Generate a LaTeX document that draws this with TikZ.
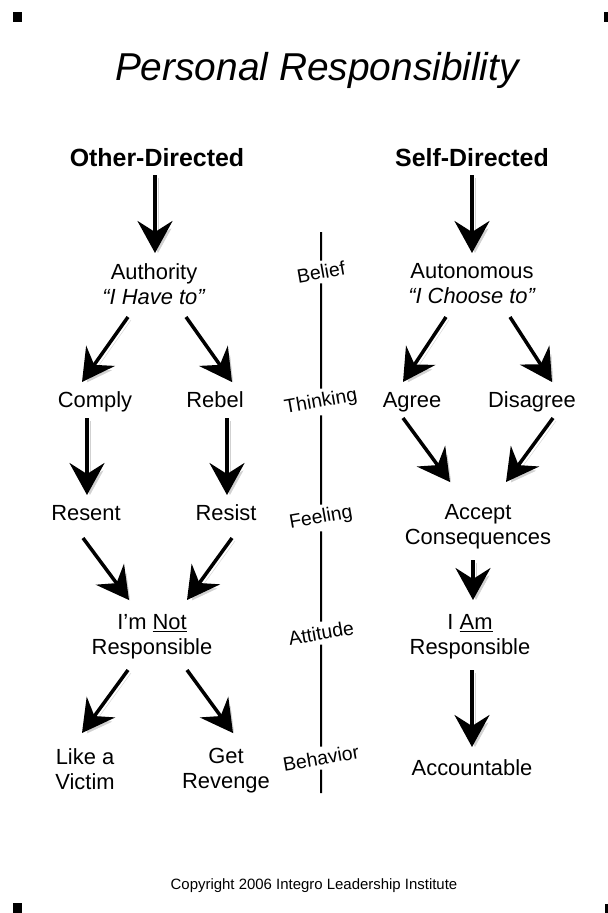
\documentclass[tikz,border=0pt]{standalone}
\usepackage{fontspec}
\setmainfont{Liberation Sans}
\usetikzlibrary{arrows.meta}

\tikzset{
  txt/.style={font=\fontsize{22}{25}\selectfont, align=center, inner sep=0pt,
    execute at begin node=\strut, execute at end node=\strut},
  headtxt/.style={font=\fontsize{25}{28}\selectfont\bfseries, inner sep=0pt},
  lvl/.style={font=\fontsize{19.5}{22}\selectfont, rotate=10, inner sep=4pt},
  arr/.style={line width=3.5bp, -{Stealth[length=32bp,width=35bp,inset=11bp]},
    preaction={draw=black!18, transform canvas={shift={(3,3)}}}},
  cornermark/.style={fill=black}
}

\begin{document}
\begin{tikzpicture}[x=1bp,y=-1bp]
\useasboundingbox[fill=white] (0,0) rectangle (608,913);
% corner marks
\fill[cornermark] (13,12) rectangle (22,22);
\fill[cornermark] (604,12) rectangle (614,22);
\fill[cornermark] (13,903) rectangle (22,915);
\fill[cornermark] (605,904) rectangle (614,915);

% title
\node[anchor=base, font=\fontsize{39}{44}\selectfont\itshape, inner sep=0pt] (title) at (317,80) {Personal Responsibility};

% headings
\node[headtxt] (other) at (157,158) {Other-Directed};
\node[headtxt] (self) at (472,158) {Self-Directed};

% left column
\node[txt] (auth) at (154,287.5) {Authority\\\textit{“I Have to”}};
\node[txt] (comply) at (95,403) {Comply};
\node[txt] (rebel) at (215,403) {Rebel};
\node[txt] (resent) at (86,516) {Resent};
\node[txt] (resist) at (226,516) {Resist};
\node[txt] (notresp) at (152,638.5) {I’m \underline{Not}\\Responsible};
\node[txt] (victim) at (85,772.5) {Like a\\Victim};
\node[txt] (revenge) at (226,772.5) {Get\\Revenge};

% right column
\node[txt] (auto) at (472,287.5) {Autonomous\\\textit{“I Choose to”}};
\node[txt] (agree) at (412,403) {Agree};
\node[txt] (disagree) at (532,403) {Disagree};
\node[txt] (accept) at (478,528.5) {Accept\\Consequences};
\node[txt] (amresp) at (470,638.5) {I \underline{Am}\\Responsible};
\node[txt] (account) at (472,771) {Accountable};

% middle scale
\coordinate (ltop) at (321,232);
\coordinate (lbot) at (321,793);
\node[lvl] (belief) at (321,272) {Belief};
\node[lvl] (thinking) at (321,402) {Thinking};
\node[lvl] (feeling) at (321,518) {Feeling};
\node[lvl] (attitude) at (321,633) {Attitude};
\node[lvl] (behavior) at (321,758) {Behavior};
\draw[line width=2bp] (ltop) -- (belief) -- (thinking) -- (feeling) -- (attitude) -- (behavior) -- (lbot);

% arrows
\draw[arr] ([shift={(-2,17)}]other.center) -- ([shift={(1,-34.5)}]auth.center);
\draw[arr] ([shift={(0,17)}]self.center) -- ([shift={(0,-34.5)}]auto.center);
\draw[arr] ([shift={(-26,29.5)}]auth.center) -- ([shift={(-13,-21)}]comply.center);
\draw[arr] ([shift={(32,29.5)}]auth.center) -- ([shift={(17,-21)}]rebel.center);
\draw[arr] ([shift={(-26,29.5)}]auto.center) -- ([shift={(-9,-21)}]agree.center);
\draw[arr] ([shift={(38,29.5)}]auto.center) -- ([shift={(20,-21)}]disagree.center);
\draw[arr] ([shift={(-8,15)}]comply.center) -- ([shift={(1,-21)}]resent.center);
\draw[arr] ([shift={(12,15)}]rebel.center) -- ([shift={(1,-21)}]resist.center);
\draw[arr] ([shift={(-9,15)}]agree.center) -- ([shift={(-28,-46.5)}]accept.center);
\draw[arr] ([shift={(21,15)}]disagree.center) -- ([shift={(28,-46.5)}]accept.center);
\draw[arr] ([shift={(-3,22)}]resent.center) -- ([shift={(-23,-38.5)}]notresp.center);
\draw[arr] ([shift={(6,22)}]resist.center) -- ([shift={(35,-38.5)}]notresp.center);
\draw[arr] ([shift={(-5,31.5)}]accept.center) -- ([shift={(3,-38.5)}]amresp.center);
\draw[arr] ([shift={(-24,31.5)}]notresp.center) -- ([shift={(-3,-39.5)}]victim.center);
\draw[arr] ([shift={(35,31.5)}]notresp.center) -- ([shift={(7,-39.5)}]revenge.center);
\draw[arr] ([shift={(2,31.5)}]amresp.center) -- ([shift={(0,-24)}]account.center);

% footer
\node[font=\fontsize{15}{18}\selectfont, inner sep=0pt] (copy) at (314,886) {Copyright 2006 Integro Leadership Institute};
\end{tikzpicture}
\end{document}
